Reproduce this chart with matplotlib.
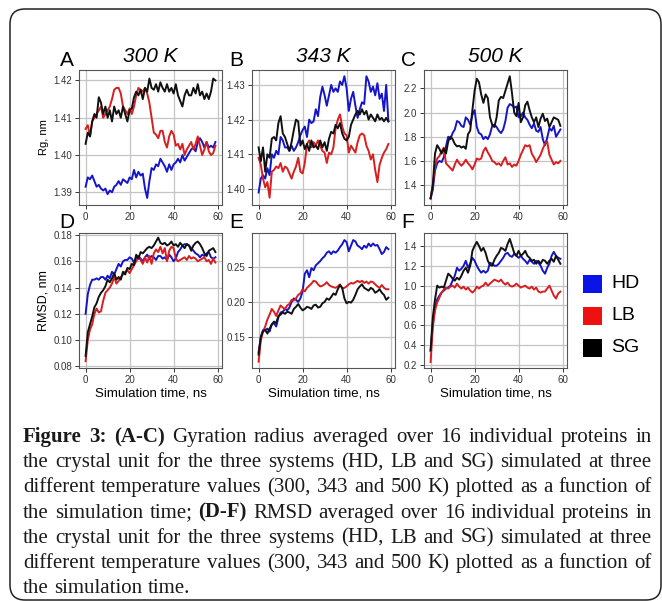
import matplotlib.pyplot as plt
from matplotlib.patches import FancyBboxPatch, Rectangle

W, H = 662, 601

# simulation time, ns
time = list(range(60))

systems = ['HD', 'LB', 'SG']
colors = ['#1515c8', '#d81e1e', '#111111']
legend_colors = ['#0a14e6', '#ee1111', '#000000']
temps = ['300 K', '343 K', '500 K']
letters = ['A', 'B', 'C', 'D', 'E', 'F']

# --- Rg, 300 K
rg300_hd = [1.3915, 1.394, 1.3935, 1.3945, 1.393, 1.3915, 1.392, 1.391, 1.3905, 1.391,
            1.3895, 1.3905, 1.390, 1.3915, 1.392, 1.393, 1.392, 1.3935, 1.393, 1.3925,
            1.394, 1.3935, 1.396, 1.394, 1.3955, 1.3945, 1.395, 1.391, 1.3885, 1.393,
            1.3965, 1.396, 1.3975, 1.397, 1.399, 1.398, 1.397, 1.3955, 1.3975, 1.396,
            1.3975, 1.398, 1.399, 1.398, 1.400, 1.3985, 1.3995, 1.4005, 1.4015, 1.402,
            1.401, 1.4035, 1.4045, 1.4035, 1.402, 1.4035, 1.402, 1.4025, 1.402, 1.4035]
rg300_lb = [1.407, 1.408, 1.405, 1.409, 1.410, 1.411, 1.412, 1.413, 1.410, 1.411,
            1.412, 1.413, 1.415, 1.4175, 1.418, 1.418, 1.4165, 1.413, 1.412, 1.411,
            1.4125, 1.411, 1.413, 1.416, 1.418, 1.4175, 1.417, 1.418, 1.4165, 1.414,
            1.410, 1.406, 1.4055, 1.4045, 1.4065, 1.4065, 1.4035, 1.402, 1.405, 1.4065,
            1.4055, 1.4025, 1.403, 1.4015, 1.403, 1.400, 1.4015, 1.4025, 1.4035, 1.4015,
            1.403, 1.405, 1.4025, 1.400, 1.4015, 1.4035, 1.401, 1.400, 1.4005, 1.4025]
rg300_sg = [1.403, 1.406, 1.405, 1.409, 1.411, 1.410, 1.4155, 1.414, 1.411, 1.413,
            1.410, 1.412, 1.409, 1.413, 1.411, 1.412, 1.410, 1.413, 1.411, 1.409,
            1.412, 1.4125, 1.4155, 1.417, 1.416, 1.4175, 1.415, 1.418, 1.417, 1.4205,
            1.418, 1.4175, 1.419, 1.417, 1.4195, 1.418, 1.417, 1.419, 1.417, 1.418,
            1.4165, 1.419, 1.416, 1.4145, 1.413, 1.416, 1.4175, 1.416, 1.416, 1.418,
            1.4165, 1.419, 1.416, 1.417, 1.415, 1.4165, 1.415, 1.417, 1.4205, 1.420]

# --- Rg, 343 K
rg343_hd = [1.399, 1.403, 1.404, 1.403, 1.406, 1.404, 1.410, 1.409, 1.411, 1.410,
            1.415, 1.414, 1.412, 1.412, 1.411, 1.4125, 1.411, 1.412, 1.4135, 1.4155,
            1.417, 1.418, 1.415, 1.420, 1.419, 1.4195, 1.423, 1.421, 1.4265, 1.4295,
            1.427, 1.424, 1.427, 1.430, 1.428, 1.429, 1.428, 1.431, 1.430, 1.4325,
            1.429, 1.4225, 1.426, 1.428, 1.424, 1.4205, 1.423, 1.425, 1.4245, 1.4325,
            1.431, 1.428, 1.4295, 1.427, 1.4305, 1.426, 1.4275, 1.4225, 1.430, 1.4195]
rg343_lb = [1.409, 1.407, 1.403, 1.4005, 1.402, 1.3975, 1.405, 1.4055, 1.4065, 1.406,
            1.4075, 1.405, 1.4065, 1.406, 1.4045, 1.403, 1.405, 1.4065, 1.409, 1.405,
            1.4045, 1.4075, 1.413, 1.414, 1.412, 1.4135, 1.4125, 1.414, 1.4125, 1.411,
            1.4105, 1.4075, 1.4105, 1.410, 1.412, 1.4175, 1.420, 1.4215, 1.418, 1.416,
            1.4155, 1.4105, 1.4125, 1.4115, 1.4105, 1.4135, 1.4155, 1.416, 1.4155, 1.4125,
            1.411, 1.4085, 1.410, 1.4055, 1.402, 1.407, 1.409, 1.4105, 1.4115, 1.413]
rg343_sg = [1.412, 1.408, 1.412, 1.405, 1.410, 1.409, 1.4145, 1.415, 1.414, 1.419,
            1.421, 1.416, 1.415, 1.413, 1.411, 1.4135, 1.417, 1.420, 1.4195, 1.4125,
            1.414, 1.4115, 1.413, 1.411, 1.414, 1.412, 1.4125, 1.4115, 1.414, 1.412,
            1.4135, 1.411, 1.4145, 1.4165, 1.416, 1.4185, 1.4175, 1.419, 1.416, 1.4145,
            1.414, 1.415, 1.4185, 1.420, 1.4215, 1.4225, 1.4215, 1.423, 1.4215, 1.4225,
            1.420, 1.4215, 1.4205, 1.4195, 1.4215, 1.420, 1.4205, 1.4195, 1.4205, 1.4195]

# --- Rg, 500 K
rg500_hd = [1.29, 1.36, 1.52, 1.58, 1.60, 1.59, 1.63, 1.72, 1.80, 1.78,
            1.83, 1.86, 1.93, 1.92, 1.89, 1.88, 1.96, 1.94, 1.90, 1.98,
            2.02, 1.88, 1.83, 1.82, 1.78, 1.80, 1.78, 1.82, 1.89, 1.90,
            1.88, 1.85, 1.83, 1.86, 1.93, 2.04, 2.07, 2.06, 2.04, 2.05,
            1.96, 1.97, 2.00, 1.96, 1.94, 1.90, 1.87, 1.91, 1.85, 1.84,
            1.88, 1.78, 1.73, 1.79, 1.87, 1.85, 1.89, 1.80, 1.83, 1.86]
rg500_lb = [1.29, 1.40, 1.55, 1.62, 1.64, 1.68, 1.71, 1.58, 1.56, 1.54,
            1.52, 1.57, 1.61, 1.58, 1.56, 1.58, 1.61, 1.58, 1.56, 1.53,
            1.57, 1.62, 1.61, 1.62, 1.68, 1.71, 1.67, 1.64, 1.60, 1.59,
            1.57, 1.58, 1.56, 1.60, 1.63, 1.57, 1.58, 1.55, 1.57, 1.56,
            1.60, 1.65, 1.69, 1.73, 1.72, 1.73, 1.66, 1.63, 1.59, 1.62,
            1.65, 1.70, 1.74, 1.76, 1.65, 1.61, 1.57, 1.59, 1.58, 1.60]
rg500_sg = [1.29, 1.40, 1.66, 1.73, 1.70, 1.66, 1.70, 1.66, 1.76, 1.80,
            1.78, 1.74, 1.72, 1.725, 1.71, 1.72, 1.70, 1.82, 1.85, 2.02,
            2.18, 2.28, 2.25, 2.15, 2.08, 2.15, 2.12, 1.96, 1.90, 1.88,
            1.96, 2.10, 2.13, 2.12, 2.18, 2.24, 2.30, 2.16, 2.00, 1.97,
            2.08, 1.92, 1.96, 2.06, 2.09, 2.02, 1.96, 1.92, 1.96, 1.88,
            1.95, 1.99, 1.93, 1.95, 1.88, 1.92, 1.96, 1.95, 1.94, 1.89]

# --- RMSD, 300 K
rmsd300_hd = [0.120, 0.135, 0.142, 0.146, 0.146, 0.147, 0.146, 0.148, 0.148, 0.146,
              0.149, 0.147, 0.152, 0.150, 0.154, 0.158, 0.156, 0.160, 0.161, 0.161,
              0.163, 0.162, 0.159, 0.163, 0.164, 0.162, 0.160, 0.163, 0.165, 0.162,
              0.164, 0.163, 0.161, 0.164, 0.164, 0.162, 0.163, 0.161, 0.165, 0.163,
              0.160, 0.162, 0.167, 0.169, 0.172, 0.173, 0.173, 0.172, 0.170, 0.168,
              0.166, 0.165, 0.163, 0.165, 0.164, 0.166, 0.167, 0.163, 0.162, 0.163]
rmsd300_lb = [0.084, 0.100, 0.108, 0.112, 0.120, 0.124, 0.121, 0.122, 0.130, 0.136,
              0.138, 0.140, 0.143, 0.148, 0.143, 0.145, 0.148, 0.150, 0.152, 0.153,
              0.151, 0.154, 0.157, 0.160, 0.163, 0.161, 0.158, 0.163, 0.159, 0.164,
              0.158, 0.166, 0.169, 0.167, 0.171, 0.166, 0.170, 0.160, 0.168, 0.171,
              0.170, 0.162, 0.160, 0.161, 0.162, 0.163, 0.161, 0.164, 0.162, 0.163,
              0.162, 0.160, 0.161, 0.162, 0.163, 0.160, 0.161, 0.158, 0.162, 0.159]
rmsd300_sg = [0.088, 0.106, 0.112, 0.118, 0.125, 0.128, 0.133, 0.136, 0.138, 0.141,
              0.146, 0.144, 0.147, 0.151, 0.146, 0.148, 0.146, 0.152, 0.150, 0.155,
              0.154, 0.158, 0.157, 0.165, 0.162, 0.167, 0.166, 0.168, 0.170, 0.171,
              0.170, 0.172, 0.175, 0.178, 0.174, 0.173, 0.174, 0.172, 0.173, 0.175,
              0.172, 0.173, 0.171, 0.174, 0.172, 0.170, 0.173, 0.172, 0.168, 0.172,
              0.174, 0.175, 0.173, 0.170, 0.166, 0.164, 0.168, 0.169, 0.170, 0.167]

# --- RMSD, 343 K
rmsd343_hd = [0.128, 0.150, 0.160, 0.160, 0.162, 0.158, 0.168, 0.170, 0.165, 0.178,
              0.185, 0.186, 0.190, 0.188, 0.192, 0.200, 0.205, 0.203, 0.200, 0.205,
              0.215, 0.240, 0.245, 0.235, 0.248, 0.245, 0.252, 0.255, 0.258, 0.262,
              0.265, 0.270, 0.272, 0.268, 0.272, 0.270, 0.273, 0.278, 0.282, 0.288,
              0.285, 0.272, 0.280, 0.288, 0.286, 0.280, 0.278, 0.275, 0.280, 0.277,
              0.283, 0.279, 0.283, 0.280, 0.281, 0.275, 0.268, 0.271, 0.278, 0.275]
rmsd343_lb = [0.115, 0.145, 0.158, 0.165, 0.175, 0.182, 0.190, 0.186, 0.180, 0.188,
              0.195, 0.192, 0.190, 0.195, 0.197, 0.203, 0.202, 0.205, 0.210, 0.212,
              0.218, 0.215, 0.220, 0.223, 0.226, 0.230, 0.229, 0.225, 0.222, 0.223,
              0.225, 0.228, 0.224, 0.222, 0.221, 0.220, 0.222, 0.225, 0.219, 0.220,
              0.222, 0.225, 0.227, 0.226, 0.228, 0.230, 0.228, 0.230, 0.227, 0.229,
              0.226, 0.229, 0.228, 0.225, 0.222, 0.220, 0.224, 0.220, 0.218, 0.218]
rmsd343_sg = [0.125, 0.150, 0.158, 0.160, 0.155, 0.162, 0.168, 0.172, 0.170, 0.180,
              0.182, 0.185, 0.183, 0.186, 0.185, 0.183, 0.190, 0.193, 0.197, 0.192,
              0.188, 0.190, 0.193, 0.192, 0.190, 0.195, 0.196, 0.192, 0.193, 0.198,
              0.200, 0.205, 0.203, 0.207, 0.212, 0.210, 0.218, 0.224, 0.220, 0.205,
              0.198, 0.200, 0.199, 0.203, 0.210, 0.218, 0.222, 0.225, 0.220, 0.218,
              0.216, 0.220, 0.218, 0.213, 0.215, 0.218, 0.213, 0.210, 0.203, 0.206]

# --- RMSD, 500 K
rmsd500_hd = [0.34, 0.62, 0.78, 0.86, 0.90, 0.93, 0.95, 0.97, 0.98, 1.00,
              1.05, 1.10, 1.18, 1.15, 1.17, 1.20, 1.25, 1.18, 1.22, 1.28,
              1.25, 1.20, 1.16, 1.13, 1.15, 1.13, 1.15, 1.23, 1.22, 1.20,
              1.20, 1.22, 1.25, 1.28, 1.32, 1.33, 1.30, 1.29, 1.32, 1.30,
              1.28, 1.30, 1.27, 1.25, 1.22, 1.26, 1.24, 1.22, 1.25, 1.23,
              1.20, 1.15, 1.12, 1.18, 1.22, 1.30, 1.34, 1.30, 1.28, 1.27]
rmsd500_lb = [0.23, 0.58, 0.75, 0.83, 0.88, 0.93, 0.96, 0.98, 0.97, 0.99,
              1.00, 0.98, 1.02, 0.99, 0.97, 0.99, 0.96, 0.98, 0.95, 0.93,
              0.95, 0.99, 0.97, 0.99, 1.00, 1.03, 1.00, 1.02, 1.04, 1.06,
              1.05, 1.04, 1.06, 1.03, 1.01, 1.03, 1.00, 0.99, 1.00, 1.02,
              1.00, 0.98, 0.99, 1.00, 0.98, 0.97, 0.99, 0.96, 0.98, 0.94,
              0.93, 0.94, 0.94, 0.97, 1.00, 0.95, 0.90, 0.87, 0.92, 0.94]
rmsd500_sg = [0.35, 0.68, 0.86, 1.00, 0.98, 0.99, 0.98, 1.05, 1.12, 1.10,
              1.07, 1.05, 1.08, 1.06, 1.10, 1.15, 1.18, 1.13, 1.20, 1.35,
              1.40, 1.44, 1.40, 1.35, 1.38, 1.33, 1.25, 1.21, 1.20, 1.26,
              1.30, 1.33, 1.38, 1.37, 1.35, 1.42, 1.47, 1.40, 1.33, 1.30,
              1.35, 1.30, 1.32, 1.35, 1.30, 1.28, 1.25, 1.26, 1.22, 1.25,
              1.22, 1.26, 1.25, 1.22, 1.25, 1.27, 1.24, 1.30, 1.26, 1.22]

panels = [
    [rg300_hd, rg300_lb, rg300_sg],
    [rg343_hd, rg343_lb, rg343_sg],
    [rg500_hd, rg500_lb, rg500_sg],
    [rmsd300_hd, rmsd300_lb, rmsd300_sg],
    [rmsd343_hd, rmsd343_lb, rmsd343_sg],
    [rmsd500_hd, rmsd500_lb, rmsd500_sg],
]
ylims = [(1.3866, 1.4228), (1.3954, 1.4343), (1.235, 2.352),
         (0.0788, 0.1815), (0.106, 0.298), (0.17, 1.53)]
yticks = [[1.39, 1.40, 1.41, 1.42], [1.40, 1.41, 1.42, 1.43],
          [1.4, 1.6, 1.8, 2.0, 2.2], [0.08, 0.10, 0.12, 0.14, 0.16, 0.18],
          [0.15, 0.20, 0.25], [0.2, 0.4, 0.6, 0.8, 1.0, 1.2, 1.4]]
ytickfmt = ['%.2f', '%.2f', '%.1f', '%.2f', '%.2f', '%.1f']

caption = [
    [("Figure 3:", True), ("(A-C)", True), ("Gyration radius averaged over 16 individual proteins in", False)],
    [("the crystal unit for the three systems (HD, LB and SG) simulated at three", False)],
    [("different temperature values (300, 343 and 500 K) plotted as a function of", False)],
    [("the simulation time;", False), ("(D-F)", True), ("RMSD averaged over 16 individual proteins in", False)],
    [("the crystal unit for the three systems (HD, LB and SG) simulated at three", False)],
    [("different temperature values (300, 343 and 500 K) plotted as a function of", False)],
    [("the simulation time.", False)],
]

plt.rcParams['font.family'] = ['Liberation Sans', 'DejaVu Sans']
fig = plt.figure(figsize=(W / 100, H / 100), dpi=100)

# rounded frame round the whole figure
frame = FancyBboxPatch((10, 1), 651, 591, boxstyle="round,pad=0,rounding_size=15",
                       transform=None, facecolor='none', edgecolor='#222222', linewidth=1.1)
fig.add_artist(frame)

col_left = [79, 252, 424]
row_top = [70, 233]
aw, ah = 143, 135

for i, series in enumerate(panels):
    r, c = divmod(i, 3)
    l, t = col_left[c], row_top[r]
    ax = fig.add_axes([l / W, 1 - (t + ah) / H, aw / W, ah / H])
    for s, col in zip(series, colors):
        ax.plot(time, s, color=col, linewidth=1.4)
    ax.set_xlim(-3, 62)
    ax.set_ylim(*ylims[i])
    ax.set_xticks([0, 20, 40, 60])
    ax.set_yticks(yticks[i])
    ax.set_yticklabels([ytickfmt[i] % v for v in yticks[i]])
    ax.grid(True, color='#c4c4c4', linewidth=0.9)
    ax.set_axisbelow(True)
    ax.tick_params(labelsize=7, length=3, width=0.7, colors='#333333', pad=2)
    for sp in ax.spines.values():
        sp.set_color('#555555')
        sp.set_linewidth(0.8)
    if r == 0:
        ax.set_title(temps[c], fontsize=15, style='italic', pad=6)
    else:
        ax.set_xlabel('Simulation time, ns', fontsize=9.5, labelpad=2)
    if c == 0:
        ax.set_ylabel('Rg, nm' if r == 0 else 'RMSD, nm', fontsize=8 if r == 0 else 9, labelpad=3)
    lx = l - 12 if c == 0 else l - 16
    fig.text(lx / W, 1 - (t - 10) / H, letters[i], fontsize=15, ha='center', va='center')

# legend
for k, (name, col) in enumerate(zip(systems, legend_colors)):
    yc = 284 + k * 32
    fig.add_artist(Rectangle((583 / W, 1 - (yc + 9) / H), 19 / W, 18 / H,
                             transform=fig.transFigure, facecolor=col, edgecolor='none'))
    fig.text(611 / W, 1 - yc / H, name, fontsize=14, ha='left', va='center')

# caption, justified word by word
renderer = fig.canvas.get_renderer()
x0, x1 = 23, 652
cap_font = dict(fontsize=15, family=['Liberation Serif', 'DejaVu Serif'], color='#1a1a1a')
sp = fig.text(0, 0, 'a a', **cap_font)
sp2 = fig.text(0, 0, 'aa', **cap_font)
space_w = sp.get_window_extent(renderer).width - sp2.get_window_extent(renderer).width
sp.remove()
sp2.remove()
for n, segs in enumerate(caption):
    words = [(w, b) for s, b in segs for w in s.split()]
    txts = [fig.text(0, 0, w, weight='bold' if b else 'normal', va='baseline', **cap_font)
            for w, b in words]
    widths = [tx.get_window_extent(renderer).width for tx in txts]
    if n == len(caption) - 1:
        gap = space_w
    else:
        gap = (x1 - x0 - sum(widths)) / (len(words) - 1)
    base = 442 + n * 25.2
    x = x0
    for tx, wd in zip(txts, widths):
        tx.set_position((x / W, 1 - base / H))
        x += wd + gap

fig.savefig('out.png', dpi=100)
